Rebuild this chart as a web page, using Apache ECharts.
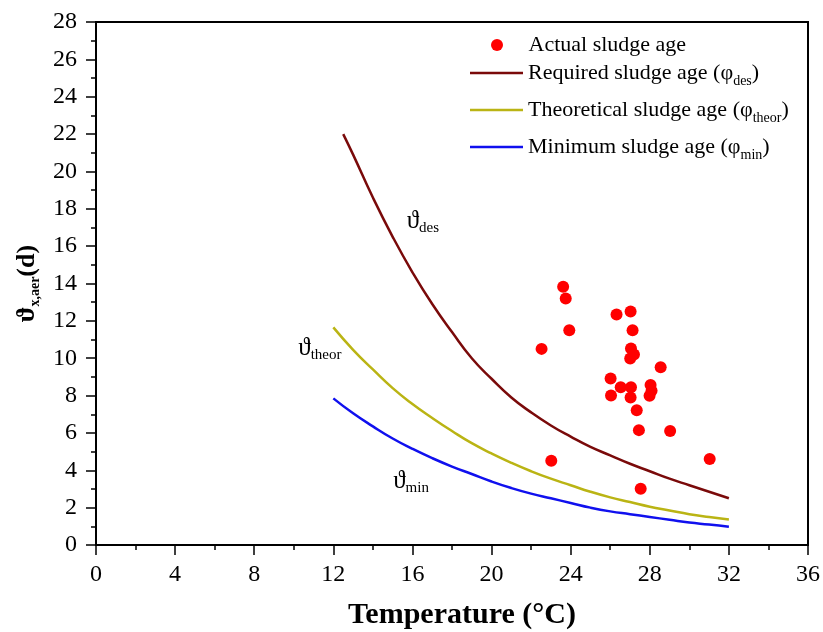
<!DOCTYPE html>
<html><head><meta charset="utf-8">
<script src="https://cdn.jsdelivr.net/npm/echarts@6/dist/echarts.min.js"></script>
<style>html,body{margin:0;padding:0;background:#fff}#c{width:823px;height:632px}</style>
</head><body><div id="c"></div>
<script>
// ---- data ----
const scatterTemp = [23.62,23.75,23.93,22.53,26.32,27.03,27.13,27.05,27.2,27.01,28.55,26.02,26.53,27.05,28.04,28.09,27.99,26.04,27.03,27.34,27.45,29.03,23.02,31.03,27.54];
const scatterAge  = [13.82,13.2,11.5,10.5,12.34,12.5,11.5,10.52,10.2,9.99,9.51,8.92,8.44,8.44,8.56,8.26,7.99,8.01,7.9,7.21,6.15,6.1,4.51,4.6,3.01];

const desTemp = [12.5,13,14,15,16,17,18,19,20,21,22,23,24,25,26,27,28,29,30,31,32];
const desAge  = [22.0,20.9,18.6,16.5,14.6,12.9,11.4,10.0,8.9,7.9,7.1,6.4,5.8,5.25,4.8,4.35,3.95,3.55,3.2,2.85,2.5];

const curveTemp = [12,13,14,15,16,17,18,19,20,21,22,23,24,25,26,27,28,29,30,31,32];
const theorAge  = [11.65,10.45,9.4,8.4,7.55,6.8,6.1,5.45,4.9,4.4,3.95,3.55,3.2,2.85,2.55,2.3,2.05,1.85,1.65,1.5,1.37];
const minAge    = [7.85,7.05,6.35,5.7,5.15,4.65,4.2,3.8,3.4,3.05,2.75,2.5,2.25,2.0,1.8,1.65,1.5,1.35,1.2,1.1,0.98];

const legendNames = ['Actual sludge age','Required sludge age','Theoretical sludge age','Minimum sludge age'];
const legendSubs  = ['','des','theor','min'];

const annotSubs = ['des','theor','min'];
const annotTemp = [16.53,11.32,15.93];
const annotAge  = [17.34,10.54,3.42];

const xMin = 0, xMax = 36, xStep = 4;
const yMin = 0, yMax = 28, yStep = 2;

// ---- chart ----
const FONT = "'Liberation Serif','Times New Roman',serif";
const zip = (a,b) => a.map((v,i)=>[v,b[i]]);
const chart = echarts.init(document.getElementById('c'), null, {renderer:'canvas'});

const legendTops = [34, 62, 99, 136];
const legendLefts = [491, 470, 470, 470];
const legends = legendNames.map((n,i)=>({
  data:[ i===0 ? {name:n, icon:'circle'} : {name:n, icon:'rect'} ],
  left:legendLefts[i], top:legendTops[i], orient:'horizontal', padding:0,
  itemWidth:53, itemHeight:i===0?12:2.5, itemGap:0,
  formatter: name => legendSubs[i] ? `{m|${name} (φ}{s|${legendSubs[i]}}{m|)}` : `{m|${name}}`,
  textStyle:{ rich:{
    m:{fontFamily:FONT,fontSize:22,color:'#000',lineHeight:30},
    s:{fontFamily:FONT,fontSize:14,color:'#000',lineHeight:10,verticalAlign:'bottom'}
  }}
}));

const axisCommon = {
  axisLine:{show:true,lineStyle:{color:'#000',width:2}},
  axisTick:{show:true,length:10,lineStyle:{color:'#000',width:1.5}},
  minorTick:{show:true,splitNumber:2,length:5,lineStyle:{color:'#000',width:1.5}},
  splitLine:{show:false},
  axisLabel:{color:'#000',fontFamily:FONT,fontSize:24}
};

chart.setOption({
  animation:false,
  backgroundColor:'#fff',
  grid:{left:96,right:15,top:22,bottom:87,show:true,borderColor:'#000',borderWidth:2,
        backgroundColor:'transparent',containLabel:false,outerBoundsMode:'none'},
  legend:legends,
  xAxis:Object.assign({}, axisCommon, {
    type:'value', min:xMin, max:xMax, interval:xStep,
    axisLabel:Object.assign({}, axisCommon.axisLabel, {margin:18}),
    name:'Temperature (°C)', nameLocation:'middle', nameGap:55,
    nameTextStyle:{fontFamily:FONT,fontSize:30,fontWeight:'bold',color:'#000',padding:[0,0,0,20]}
  }),
  yAxis:Object.assign({}, axisCommon, {
    type:'value', min:yMin, max:yMax, interval:yStep,
    axisLabel:Object.assign({}, axisCommon.axisLabel, {margin:19}),
    name:'{m|ϑ}{s|x,aer}{m|(d)}', nameLocation:'middle', nameGap:48, nameRotate:90,
    nameTextStyle:{rich:{
      m:{fontFamily:FONT,fontSize:26,fontWeight:'bold',color:'#000',lineHeight:30},
      s:{fontFamily:FONT,fontSize:14,fontWeight:'bold',color:'#000',lineHeight:10,verticalAlign:'bottom'}
    }}
  }),
  series:[
    {name:legendNames[0], type:'scatter', data:zip(scatterTemp,scatterAge), symbol:'circle', symbolSize:12,
     itemStyle:{color:'#ff0000',opacity:1}, z:5},
    {name:legendNames[1], type:'line', data:zip(desTemp,desAge), smooth:true, symbol:'none',
     lineStyle:{color:'#7a0a0a',width:2.5}, itemStyle:{color:'#7a0a0a'}},
    {name:legendNames[2], type:'line', data:zip(curveTemp,theorAge), smooth:true, symbol:'none',
     lineStyle:{color:'#bab414',width:2.5}, itemStyle:{color:'#bab414'}},
    {name:legendNames[3], type:'line', data:zip(curveTemp,minAge), smooth:true, symbol:'none',
     lineStyle:{color:'#1010ee',width:2.5}, itemStyle:{color:'#1010ee'}},
    {name:'annot', type:'scatter', data:zip(annotTemp,annotAge), symbolSize:1, silent:true,
     itemStyle:{color:'rgba(0,0,0,0)'},
     label:{show:true, position:'inside', color:'#000', opacity:1,
       formatter: p => `{g|ϑ}{s|${annotSubs[p.dataIndex]}}`,
       rich:{
         g:{fontFamily:FONT,fontSize:25,color:'#000',lineHeight:28},
         s:{fontFamily:FONT,fontSize:15,color:'#000',lineHeight:10,verticalAlign:'bottom'}
       }}}
  ]
});
</script></body></html>
